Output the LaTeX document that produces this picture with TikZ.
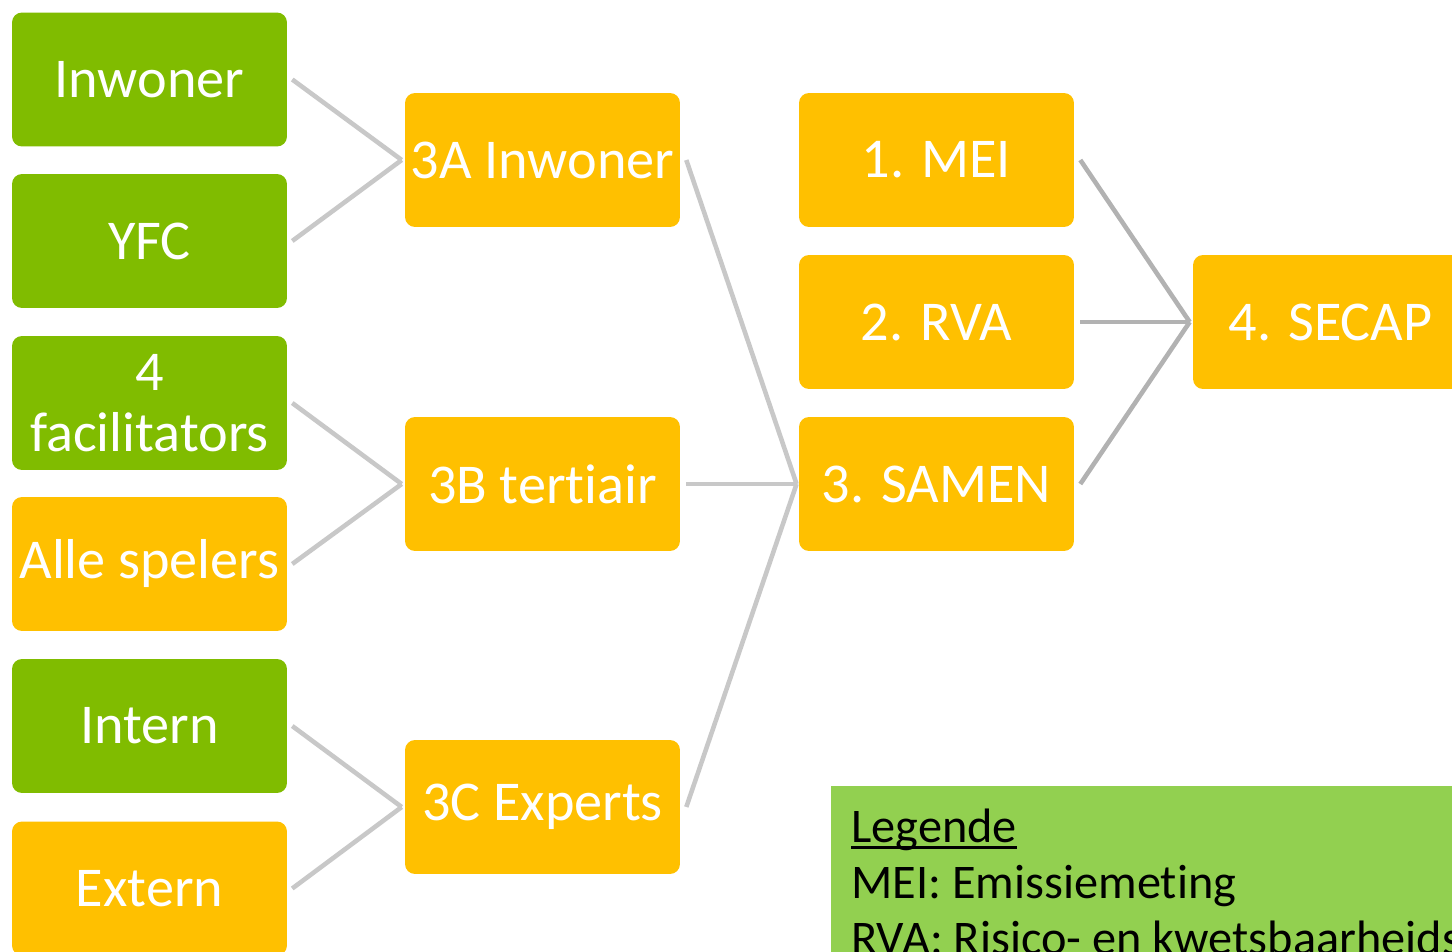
\documentclass[tikz,border=0pt]{standalone}
\usepackage{fontspec}
\setmainfont{Carlito}[RawFeature=-liga]
\usepackage{tikz}

\definecolor{groen}{HTML}{80BC00}
\definecolor{oranje}{HTML}{FFC000}
\definecolor{lichtgroen}{HTML}{92D050}
\definecolor{lijngrijs}{HTML}{C8C8C8}
\definecolor{donkergrijs}{HTML}{B2B2B2}

\tikzset{
    blok/.style={rounded corners=0.2cm, minimum width=5.5cm, minimum height=2.68cm,
        inner sep=0pt, text=white, align=center, font=\fontsize{32}{35}\selectfont},
    groenblok/.style={blok, fill=groen},
    oranjeblok/.style={blok, fill=oranje},
    lijn/.style={draw=lijngrijs, line width=2.6pt},
    donkerlijn/.style={draw=donkergrijs, line width=2.6pt},
    legtekst/.style={anchor=base west, inner sep=0pt, text=black, font=\fontsize{27.5}{30}\selectfont}
}

\begin{document}
\begin{tikzpicture}[x=0.02cm, y=-0.02cm]
    \useasboundingbox (0,0) rectangle (1452,952);
    \clip (0,0) rectangle (1452,952);

    % linker kolom
    \node[groenblok]  (inw)  at (149.5,79.5) {Inwoner};
    \node[groenblok]  (yfc)  at (149.5,241)  {YFC};
    \node[groenblok]  (fac)  at (149.5,403)  {4\\facilitators};
    \node[oranjeblok] (alle) at (149.5,564)  {Alle spelers};
    \node[groenblok]  (int)  at (149.5,726)  {Intern};
    \node[oranjeblok] (ext)  at (149.5,888.5) {Extern};

    % deelprojecten 3
    \node[oranjeblok] (dA) at (542.5,160) {3A Inwoner};
    \node[oranjeblok] (dB) at (542.5,484) {3B tertiair};
    \node[oranjeblok] (dC) at (542.5,807) {3C Experts};

    % hoofdstappen
    \node[oranjeblok] (mei)   at (936.5,160) {1. MEI};
    \node[oranjeblok] (rva)   at (936.5,322) {2. RVA};
    \node[oranjeblok] (samen) at (936.5,484) {3. SAMEN};
    \node[oranjeblok] (secap) at (1330.5,322) {4. SECAP};

    \draw[lijn] ([xshift=2.8pt]inw.east)  -- ([xshift=-1.7pt]dA.west);
    \draw[lijn] ([xshift=2.8pt]yfc.east)  -- ([xshift=-1.7pt]dA.west);
    \draw[lijn] ([xshift=2.8pt]fac.east)  -- ([xshift=-1.7pt]dB.west);
    \draw[lijn] ([xshift=2.8pt]alle.east) -- ([xshift=-1.7pt]dB.west);
    \draw[lijn] ([xshift=2.8pt]int.east)  -- ([xshift=-1.7pt]dC.west);
    \draw[lijn] ([xshift=2.8pt]ext.east)  -- ([xshift=-1.7pt]dC.west);

    \draw[lijn] ([xshift=3.4pt]dA.east) -- ([xshift=-1.2pt]samen.west);
    \draw[lijn] ([xshift=3.4pt]dB.east) -- ([xshift=-1.2pt]samen.west);
    \draw[lijn] ([xshift=3.4pt]dC.east) -- ([xshift=-1.2pt]samen.west);

    \draw[donkerlijn] ([xshift=3.4pt]mei.east)   -- ([xshift=-1.7pt]secap.west);
    \draw[donkerlijn] ([xshift=3.4pt]rva.east)   -- ([xshift=-1.7pt]secap.west);
    \draw[donkerlijn] ([xshift=3.4pt]samen.east) -- ([xshift=-1.7pt]secap.west);

    % legende
    \fill[lichtgroen] (831,786) rectangle (1470,970);
    \node[legtekst] (leg)  at (851,842) {Legende};
    \draw[line width=1.6pt] ([yshift=-3pt]leg.base west) -- ([yshift=-3pt]leg.base east);
    \node[legtekst] (lmei) at (851,898) {MEI: Emissiemeting};
    \node[legtekst] (lrva) at (851,954) {RVA: Risico- en kwetsbaarheids};
\end{tikzpicture}
\end{document}
